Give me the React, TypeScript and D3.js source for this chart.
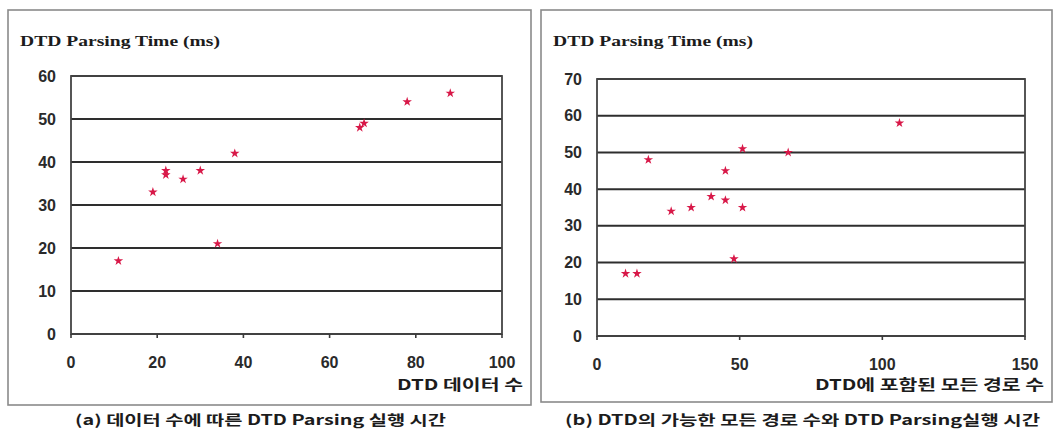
import React from 'react';
import * as d3 from 'd3';

// (a) DTD data count vs parsing time
const dataCountX = [11, 19, 22, 22, 26, 30, 34, 38, 67, 68, 78, 88];
const dataCountY = [17, 33, 37, 38, 36, 38, 21, 42, 48, 49, 54, 56];

// (b) number of paths in DTD vs parsing time
const pathCountX = [10, 14, 18, 26, 33, 40, 45, 45, 48, 51, 51, 67, 106];
const pathCountY = [17, 17, 48, 34, 35, 38, 45, 37, 21, 51, 35, 50, 58];

const yTitle = 'DTD Parsing Time (ms)';
const xTitleA = 'DTD 데이터 수';
const xTitleB = 'DTD에 포함된 모든 경로 수';
const captionA = '(a) 데이터 수에 따른 DTD Parsing 실행 시간';
const captionB = '(b) DTD의 가능한 모든 경로 수와 DTD Parsing실행 시간';

const xTicksA = [0, 20, 40, 60, 80, 100];
const yTicksA = [0, 10, 20, 30, 40, 50, 60];
const xTicksB = [0, 50, 100, 150];
const yTicksB = [0, 10, 20, 30, 40, 50, 60, 70];

const pointColor = '#d81848';
const textColor = '#1c1c1c';
const sansFont = "'Noto Sans CJK KR', 'Liberation Sans', Arial, sans-serif";
const tickFont = "'Liberation Sans', Arial, sans-serif";
const serifFont = "'Liberation Serif', 'DejaVu Serif', serif";

type PanelProps = {
  box: [number, number, number, number];
  plot: [number, number, number, number];
  xs: number[];
  ys: number[];
  xTicks: number[];
  yTicks: number[];
  xTitle: string;
  xTitleLen: number;
  caption: string;
  captionX: number;
  captionLen: number;
  titleX: number;
};

function Panel(p: PanelProps) {
  const [bx0, by0, bx1, by1] = p.box;
  const [px0, py0, px1, py1] = p.plot;
  const x = d3.scaleLinear().domain(d3.extent(p.xTicks) as [number, number]).range([px0, px1]);
  const y = d3.scaleLinear().domain(d3.extent(p.yTicks) as [number, number]).range([py1, py0]);
  const star = d3.symbol().type(d3.symbolStar).size(28)();

  return (
    <g>
      <rect x={bx0} y={by0} width={bx1 - bx0} height={by1 - by0} fill="none" stroke="#8a8a8a" strokeWidth={1.6} />
      <text x={p.titleX} y={46} fontFamily={serifFont} fontWeight="bold" fontSize={15}
        fill={textColor} textLength={200} lengthAdjust="spacingAndGlyphs">{yTitle}</text>

      {p.yTicks.map(t => (
        <g key={'gy' + t}>
          <line x1={px0} x2={px1} y1={y(t)} y2={y(t)} stroke="#2e2e2e" strokeWidth={2} />
          <text x={px0 - 15} y={y(t)} dy="0.35em" textAnchor="end" fontFamily={tickFont}
            fontWeight="bold" fontSize={16} fill="#2a2a2a">{t}</text>
        </g>
      ))}
      <rect x={px0} y={py0} width={px1 - px0} height={py1 - py0} fill="none" stroke="#444" strokeWidth={1.8} />

      {p.xTicks.map(t => (
        <g key={'gx' + t}>
          <line x1={x(t)} x2={x(t)} y1={py1} y2={py1 + 4} stroke="#3a3a3a" strokeWidth={1.6} />
          <text x={x(t)} y={py1 + 28} dy="0.35em" textAnchor="middle" fontFamily={tickFont}
            fontWeight="bold" fontSize={16} fill="#2a2a2a">{t}</text>
        </g>
      ))}

      {p.xs.map((v, i) => (
        <path key={'pt' + i} d={star} transform={`translate(${x(v)},${y(p.ys[i])})`} fill={pointColor} />
      ))}

      <text x={bx1 - 8} y={385} dy="0.35em" textAnchor="end" fontFamily={sansFont} fontWeight="bold"
        fontSize={15} fill={textColor} textLength={p.xTitleLen} lengthAdjust="spacingAndGlyphs">{p.xTitle}</text>
      <text x={p.captionX} y={420} dy="0.35em" fontFamily={sansFont} fontWeight="bold"
        fontSize={14} fill={textColor} textLength={p.captionLen} lengthAdjust="spacingAndGlyphs">{p.caption}</text>
    </g>
  );
}

export default function App() {
  return (
    <div style={{ position: 'absolute', left: 0, top: 0 }}>
      <svg width={1061} height={437} style={{ display: 'block', background: '#fff' }}>
        <Panel box={[8, 10, 531, 405]} plot={[71, 76, 502, 334]} xs={dataCountX} ys={dataCountY}
          xTicks={xTicksA} yTicks={yTicksA} xTitle={xTitleA} xTitleLen={126}
          caption={captionA} captionX={75} captionLen={371} titleX={20} />
        <Panel box={[541, 10, 1052, 402]} plot={[597, 79, 1025, 336]} xs={pathCountX} ys={pathCountY}
          xTicks={xTicksB} yTicks={yTicksB} xTitle={xTitleB} xTitleLen={229}
          caption={captionB} captionX={565} captionLen={475} titleX={553} />
      </svg>
    </div>
  );
}
